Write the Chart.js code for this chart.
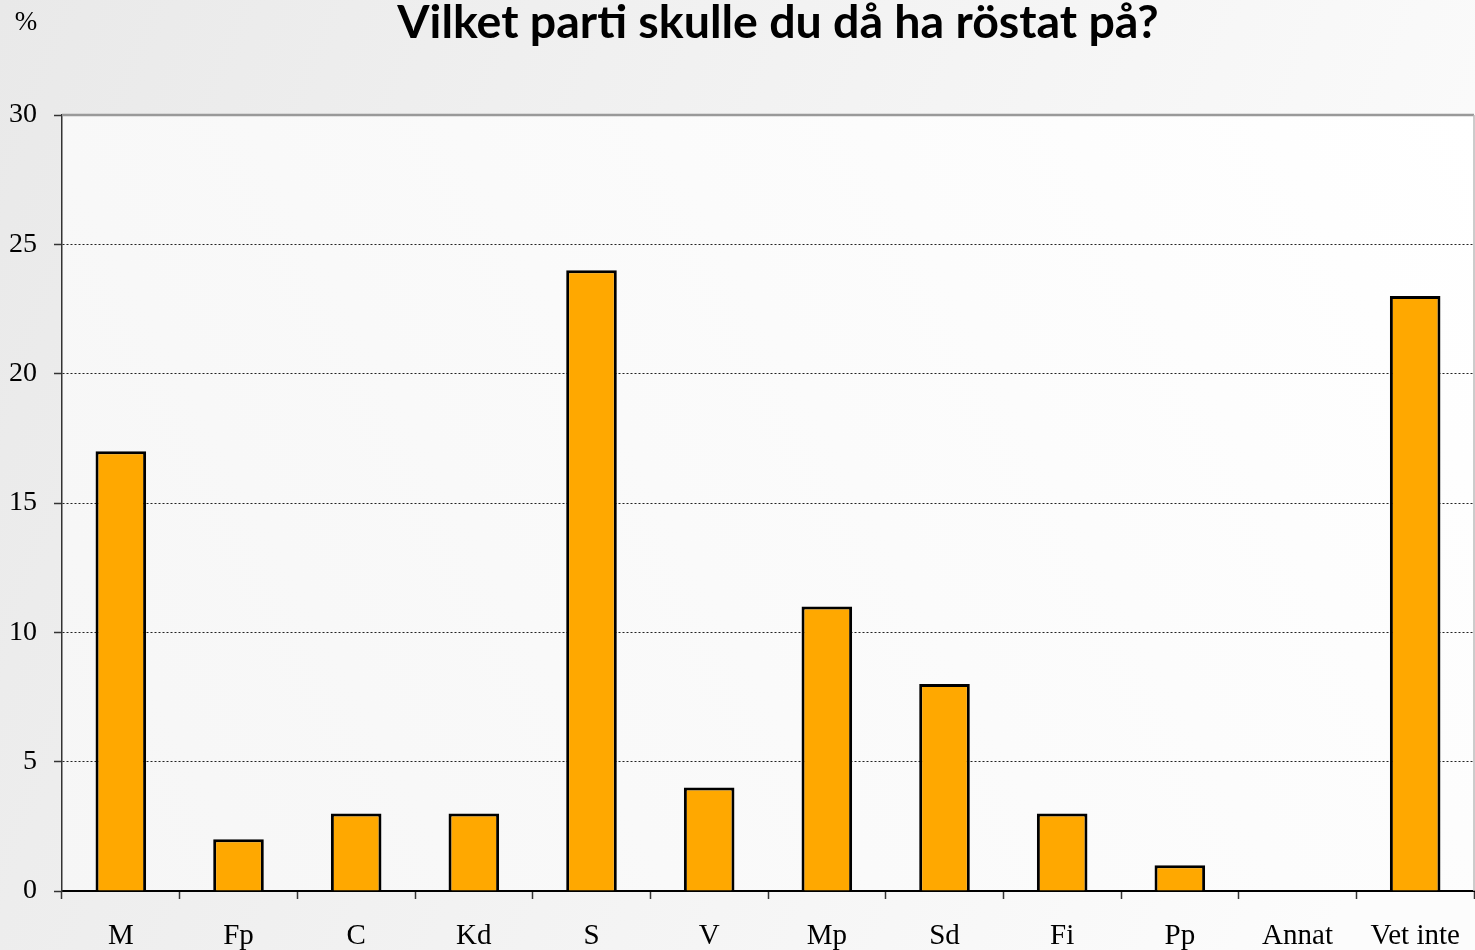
<!DOCTYPE html>
<html>
<head>
<meta charset="utf-8">
<script src="https://cdn.jsdelivr.net/npm/chart.js@4.4.1/dist/chart.umd.min.js"></script>
<style>
  html, body { margin: 0; padding: 0; background: #fff; }
  #wrap { width: 1475px; height: 950px; }
</style>
</head>
<body>
<div id="wrap"><canvas id="chart" width="1475" height="950"></canvas></div>
<script>
// ----- Data -----
const parties = ["M", "Fp", "C", "Kd", "S", "V", "Mp", "Sd", "Fi", "Pp", "Annat", "Vet inte"];
const shares = [17, 2, 3, 3, 24, 4, 11, 8, 3, 1, 0, 23];
const chartTitle = "Vilket parti skulle du då ha röstat på?";
const unitLabel = "%";

const serif = "'Liberation Serif', 'DejaVu Serif', serif";

// background, plot frame and loose texts
const decor = {
  id: "decor",
  beforeDraw(chart) {
    const { ctx, width, height, chartArea: a } = chart;
    ctx.save();
    let g = ctx.createLinearGradient(0, 0, width, height * 0.6);
    g.addColorStop(0, "#e9e9e9");
    g.addColorStop(1, "#fcfcfc");
    ctx.fillStyle = g;
    ctx.fillRect(0, 0, width, height);
    g = ctx.createLinearGradient(a.left, a.bottom, a.right, a.top);
    g.addColorStop(0, "#f6f6f6");
    g.addColorStop(1, "#ffffff");
    ctx.fillStyle = g;
    ctx.fillRect(a.left, a.top, a.right - a.left, a.bottom - a.top);
    ctx.restore();
  },
  beforeDatasetsDraw(chart) {
    const { ctx, chartArea: a, scales } = chart;
    const yTop = scales.y.getPixelForValue(30);
    ctx.save();
    ctx.strokeStyle = "#999";
    ctx.lineWidth = 2.5;
    ctx.beginPath();
    ctx.moveTo(a.left, yTop);
    ctx.lineTo(a.right, yTop);
    ctx.stroke();
    ctx.strokeStyle = "#bbb";
    ctx.lineWidth = 1.5;
    ctx.beginPath();
    ctx.moveTo(a.right, yTop);
    ctx.lineTo(a.right, a.bottom);
    ctx.stroke();
    ctx.restore();
  },
  afterDraw(chart) {
    const { ctx } = chart;
    ctx.save();
    ctx.fillStyle = "#000";
    ctx.textAlign = "center";
    ctx.textBaseline = "middle";
    ctx.font = "bold 46.5px Lato, 'Open Sans', sans-serif";
    ctx.fillText(chartTitle, 778, 23);
    ctx.font = "27px " + serif;
    ctx.fillText(unitLabel, 26, 23);
    ctx.restore();
  }
};

new Chart(document.getElementById("chart"), {
  type: "bar",
  data: {
    labels: parties,
    datasets: [{
      data: shares,
      backgroundColor: "#FFA800",
      borderColor: "#000",
      borderWidth: 3,
      borderSkipped: "bottom",
      barPercentage: 0.43,
      categoryPercentage: 1
    }]
  },
  options: {
    responsive: false,
    devicePixelRatio: 1,
    animation: false,
    layout: { padding: { top: 115, right: 1, left: 0, bottom: 0 } },
    plugins: {
      legend: { display: false },
      title: { display: false },
      tooltip: { enabled: false }
    },
    scales: {
      x: {
        grid: {
          offset: true,
          drawOnChartArea: false,
          drawTicks: true,
          tickLength: 8,
          tickColor: "#333",
          tickWidth: 1.5
        },
        border: { color: "#000", width: 2 },
        ticks: {
          color: "#000",
          font: { family: serif, size: 29 },
          padding: 20,
          maxRotation: 0,
          autoSkip: false
        },
        afterFit(s) {
          s.height = 59;
          // let the last label run to the canvas edge
          s.paddingLeft = 0;
          s.paddingRight = 0;
        }
      },
      y: {
        min: 0,
        max: 30,
        grid: {
          color: c => (c.tick && (c.tick.value === 0 || c.tick.value === 30)) ? "rgba(0,0,0,0)" : "#222",
          lineWidth: 1,
          tickLength: 8,
          tickColor: "#333",
          tickWidth: 1.5,
          tickBorderDash: []
        },
        border: { color: "#333", width: 1.5, dash: [2, 2] },
        ticks: {
          stepSize: 5,
          color: "#000",
          font: { family: serif, size: 28 },
          padding: 17
        },
        afterFit(s) { s.width = 62; }
      }
    }
  },
  plugins: [decor]
});
</script>
</body>
</html>
